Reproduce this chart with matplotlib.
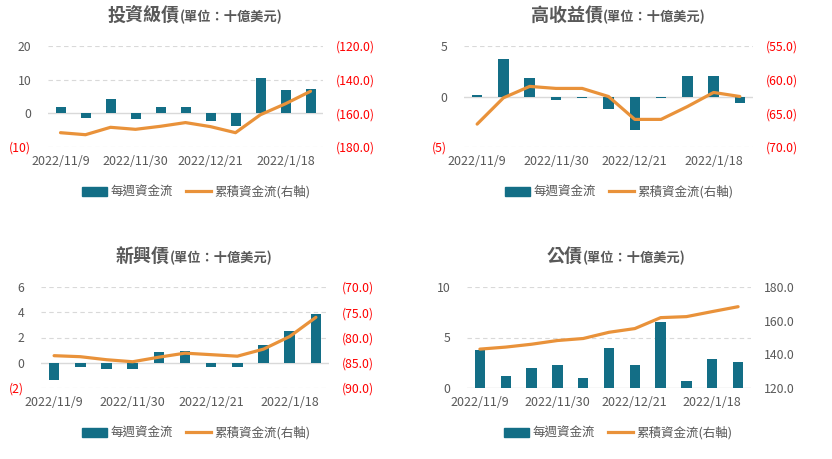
import matplotlib
matplotlib.use("Agg")
import matplotlib.pyplot as plt
from matplotlib.ticker import FuncFormatter
from matplotlib.patches import Patch
from matplotlib.lines import Line2D

plt.rcParams['font.family'] = ['Noto Sans CJK TC', 'DejaVu Sans']

dates = ["2022/11/9", "2022/11/16", "2022/11/23", "2022/11/30", "2022/12/7", "2022/12/14",
         "2022/12/21", "2022/12/28", "2022/1/11", "2022/1/18", "2022/1/25"]

# 投資級債
ig_flow = [1.8, -1.4, 4.2, -1.7, 1.8, 1.8, -2.3, -3.9, 10.4, 6.8, 7.1]
ig_cum = [-171.5, -172.7, -168.3, -169.5, -167.7, -165.5, -167.9, -171.5, -160.8, -154.3, -146.9]
# 高收益債
hy_flow = [0.13, 3.7, 1.8, -0.33, -0.15, -1.2, -3.3, -0.1, 2.0, 2.0, -0.6]
hy_cum = [-66.6, -62.7, -61.0, -61.3, -61.3, -62.5, -65.9, -65.9, -64.0, -61.9, -62.5]
# 新興債
em_flow = [-1.4, -0.3, -0.53, -0.53, 0.82, 0.9, -0.3, -0.3, 1.38, 2.5, 3.84]
em_cum = [-83.6, -83.8, -84.4, -84.8, -83.9, -83.1, -83.4, -83.7, -82.3, -79.8, -76.0]
# 公債
gov_flow = [3.75, 1.18, 1.97, 2.27, 0.99, 3.95, 2.27, 6.5, 0.69, 2.86, 2.57]
gov_cum = [143.1, 144.3, 146.0, 148.2, 149.4, 153.1, 155.3, 161.8, 162.4, 165.4, 168.3]

W, H = 832, 459
BAR = "#136E86"
LINE = "#E9923A"
GREY = "#595959"
GRID = "#D9D9D9"

fig = plt.figure(figsize=(W / 100, H / 100), dpi=100)


def fmt_left(v, pos):
    if v < 0:
        return f"({abs(v):.0f})"
    return f"{v:.0f}"


def fmt_right(v, pos):
    if v < 0:
        return f"({abs(v):.1f})"
    return f"{v:.1f}"


def panel(box, flow, cum, ylim, yticks, rlim, rticks, title, title_xy, legend_xy):
    l, t, r, b = box
    ax = fig.add_axes([l / W, 1 - b / H, (r - l) / W, (b - t) / H])
    x = list(range(len(dates)))
    ax.bar(x, flow, width=0.4, color=BAR, zorder=3)
    ax.set_xlim(-0.5, len(dates) - 0.5)
    ax.set_ylim(*ylim)
    ax.set_yticks(yticks)
    for yv in yticks:
        if yv == 0:
            ax.axhline(0, color=GRID, lw=1, zorder=2)
        else:
            ax.axhline(yv, color=GRID, lw=0.8, ls=(0, (4, 3)), zorder=1)
    ax.yaxis.set_major_formatter(FuncFormatter(fmt_left))
    ax.set_xticks(x[::3])
    ax.set_xticklabels(dates[::3])
    ax.tick_params(axis='x', length=0, pad=6, labelsize=9, labelcolor=GREY)
    ax.tick_params(axis='y', length=0, pad=12, labelsize=8.8, labelcolor=GREY)
    for lab, v in zip(ax.get_yticklabels(), yticks):
        if v < 0:
            lab.set_color("red")
    for s in ax.spines.values():
        s.set_visible(False)

    ax2 = ax.twinx()
    ax2.plot(x, cum, color=LINE, lw=2.3, zorder=4, solid_capstyle='round')
    ax2.set_ylim(*rlim)
    ax2.set_yticks(rticks)
    ax2.yaxis.set_major_formatter(FuncFormatter(fmt_right))
    ax2.tick_params(axis='y', length=0, pad=9, labelsize=8.8, labelcolor=GREY)
    for lab, v in zip(ax2.get_yticklabels(), rticks):
        if v < 0:
            lab.set_color("red")
    for s in ax2.spines.values():
        s.set_visible(False)

    tx, ty = title_xy
    fig.text(tx / W, 1 - ty / H, title, ha='right', va='baseline',
             fontsize=13, fontweight='bold', color=GREY)
    fig.text(tx / W, 1 - ty / H, "(單位：十億美元)", ha='left', va='baseline',
             fontsize=9.5, fontweight='bold', color=GREY)

    handles = [Patch(color=BAR), Line2D([0], [0], color=LINE, lw=2.3)]
    fig.legend(handles, ["每週資金流", "累積資金流(右軸)"], loc='center',
               bbox_to_anchor=(legend_xy[0] / W, 1 - legend_xy[1] / H), ncol=2,
               frameon=False, fontsize=9, labelcolor=GREY, handlelength=2.0,
               handletextpad=0.3, columnspacing=1.0)


panel((48, 46, 323, 147), ig_flow, ig_cum, (-10, 20), [-10, 0, 10, 20],
      (-180, -120), [-180, -160, -140, -120], "投資級債", (180, 21), (196, 192))
panel((464, 46, 753, 147), hy_flow, hy_cum, (-5, 5), [-5, 0, 5],
      (-70, -55), [-70, -65, -60, -55], "高收益債", (603, 21), (619, 192))
panel((41, 287, 329, 388), em_flow, em_cum, (-2, 6), [-2, 0, 2, 4, 6],
      (-90, -70), [-90, -85, -80, -75, -70], "新興債", (170, 262), (196, 433))
panel((467, 287, 751, 388), gov_flow, gov_cum, (0, 10), [0, 5, 10],
      (120, 180), [120, 140, 160, 180], "公債", (583, 262), (618, 433))

fig.savefig("out.png", dpi=100)
